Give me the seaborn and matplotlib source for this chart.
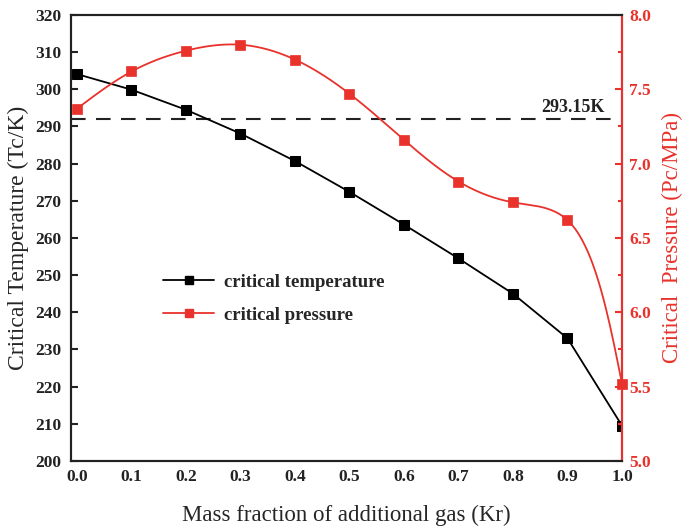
import numpy as np
import pandas as pd
import matplotlib
matplotlib.use("Agg")
import matplotlib.pyplot as plt
from matplotlib.lines import Line2D
import seaborn as sns

# ---- data ----
mass_fraction = [0.0, 0.1, 0.2, 0.3, 0.4, 0.5, 0.6, 0.7, 0.8, 0.9, 1.0]
critical_temperature = [304.1, 299.9, 294.5, 288.1, 280.7, 272.4, 263.6, 254.5, 245.0, 233.0, 209.5]
critical_pressure = [7.37, 7.62, 7.76, 7.80, 7.70, 7.47, 7.16, 6.88, 6.74, 6.62, 5.52]
reference_temp = 292.0
reference_label = "293.15K"
x_ticks = [0.0, 0.1, 0.2, 0.3, 0.4, 0.5, 0.6, 0.7, 0.8, 0.9, 1.0]
left_ticks = [200, 210, 220, 230, 240, 250, 260, 270, 280, 290, 300, 310, 320]
right_ticks = [5.0, 5.5, 6.0, 6.5, 7.0, 7.5, 8.0]

RED = "#e8322b"
XLIM = (-0.011, 1.0)
Y2LIM = (5.0, 8.0)


def natural_spline_1d(t, v, ts):
    t = np.asarray(t, float)
    v = np.asarray(v, float)
    k = len(t)
    h = np.diff(t)
    A = np.zeros((k, k))
    b = np.zeros(k)
    A[0, 0] = 1
    A[-1, -1] = 1
    for i in range(1, k - 1):
        A[i, i - 1] = h[i - 1]
        A[i, i] = 2 * (h[i - 1] + h[i])
        A[i, i + 1] = h[i]
        b[i] = 6 * ((v[i + 1] - v[i]) / h[i] - (v[i] - v[i - 1]) / h[i - 1])
    M = np.linalg.solve(A, b)
    idx = np.clip(np.searchsorted(t, ts) - 1, 0, k - 2)
    t0, t1 = t[idx], t[idx + 1]
    hh = t1 - t0
    return (M[idx] * (t1 - ts) ** 3 / (6 * hh) + M[idx + 1] * (ts - t0) ** 3 / (6 * hh)
            + (v[idx] / hh - M[idx] * hh / 6) * (t1 - ts)
            + (v[idx + 1] / hh - M[idx + 1] * hh / 6) * (ts - t0))


def parametric_spline(x, y, xscale, yscale, alpha=0.5, n=600):
    # centripetal parametric spline, computed in screen-proportional units
    px = np.asarray(x, float) * xscale
    py = np.asarray(y, float) * yscale
    d = np.hypot(np.diff(px), np.diff(py)) ** alpha
    t = np.concatenate([[0], np.cumsum(d)])
    ts = np.linspace(0, t[-1], n)
    return (natural_spline_1d(t, px, ts) / xscale,
            natural_spline_1d(t, py, ts) / yscale)


sns.set_theme(style="white")
plt.rcParams["font.family"] = ["Liberation Serif", "DejaVu Serif"]

fig = plt.figure(figsize=(6.86, 5.30), dpi=100)
ax = fig.add_axes([0.1035, 0.1302, 0.8032, 0.8415])
ax2 = ax.twinx()

df_t = pd.DataFrame({"x": mass_fraction, "y": critical_temperature})
df_p = pd.DataFrame({"x": mass_fraction, "y": critical_pressure})

sns.lineplot(data=df_t, x="x", y="y", ax=ax, color="black", marker="s",
             markersize=7.5, linewidth=1.3, markeredgecolor="black", zorder=3)

# screen scale: axes ~551 px wide x 446 px tall
sx, sy = parametric_spline(mass_fraction, critical_pressure,
                           551 / (XLIM[1] - XLIM[0]), 446 / (Y2LIM[1] - Y2LIM[0]))
ax2.plot(sx, sy, color=RED, linewidth=1.3, zorder=3)
sns.scatterplot(data=df_p, x="x", y="y", ax=ax2, color=RED, marker="s", s=62,
                edgecolor=RED, linewidth=0.5, zorder=4, clip_on=False)

ax.axhline(reference_temp, color="#222222", linestyle=(0, (7, 5)), linewidth=1.5, zorder=2)
ax.text(0.968, reference_temp + 0.9, reference_label, ha="right", va="bottom",
        fontsize=13, fontweight="bold", color="#222222")

ax.set_xlim(*XLIM)
ax.set_ylim(200, 320)
ax2.set_ylim(*Y2LIM)

ax.set_xticks(x_ticks)
ax.set_xticklabels([f"{v:.1f}" for v in x_ticks], fontsize=12.5, fontweight="bold")
ax.set_yticks(left_ticks)
ax.set_yticklabels([str(v) for v in left_ticks], fontsize=12.5, fontweight="bold")
ax2.set_yticks(right_ticks)
ax2.set_yticklabels([f"{v:.1f}" for v in right_ticks], fontsize=12.5, fontweight="bold", color=RED)
ax2.set_yticks([5.25, 5.75, 6.25, 6.75, 7.25, 7.75], minor=True)

ax.set_xlabel("Mass fraction of additional gas (Kr)", fontsize=16.5, labelpad=14)
ax.set_ylabel("Critical Temperature (Tc/K)", fontsize=17, labelpad=4)
ax2.set_ylabel("Critical  Pressure (Pc/MPa)", fontsize=16.5, color=RED, labelpad=8)
ax2.set_xlabel("")

for a in (ax, ax2):
    for sp in a.spines.values():
        sp.set_linewidth(1.5)
        sp.set_color("#222222")
ax2.spines["right"].set_color(RED)

ax.tick_params(axis="x", direction="in", length=5, width=1.5, colors="#222222", pad=6)
ax.tick_params(axis="y", direction="in", length=5, width=1.5, colors="#222222", pad=7, right=False)
ax2.tick_params(axis="y", which="major", direction="in", length=5, width=1.5, colors=RED, pad=5)
ax2.tick_params(axis="y", which="minor", direction="in", length=3, width=1.5, colors=RED, right=True)

handles = [
    Line2D([], [], color="black", marker="s", markersize=6, linewidth=1.3),
    Line2D([], [], color=RED, marker="s", markersize=6, linewidth=1.3),
]
leg = ax.legend(handles, ["critical temperature", "critical pressure"], loc="upper left",
                bbox_to_anchor=(0.154, 0.437), borderaxespad=0, frameon=False,
                handlelength=2.7, handletextpad=0.55, labelspacing=0.85,
                prop={"weight": "bold", "size": 13.5})
if ax2.get_legend() is not None:
    ax2.get_legend().remove()

fig.savefig("out.png", dpi=100)
